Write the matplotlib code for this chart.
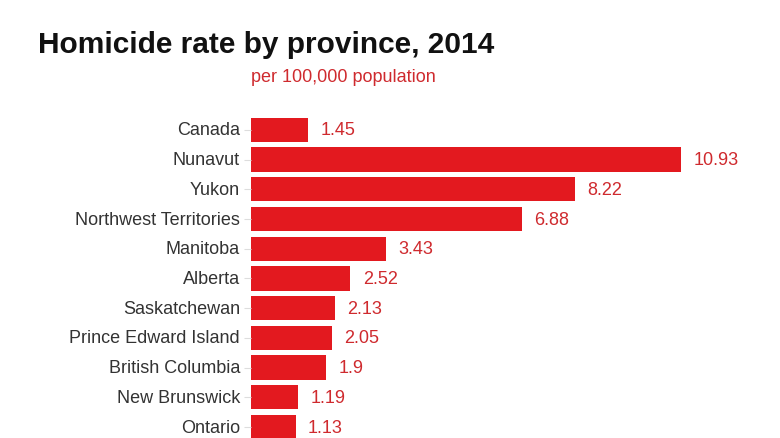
import matplotlib
matplotlib.use("Agg")
import matplotlib.pyplot as plt

# homicide rate per 100,000 population, 2014 (visible rows)
provinces = ["Canada", "Nunavut", "Yukon", "Northwest Territories", "Manitoba",
             "Alberta", "Saskatchewan", "Prince Edward Island", "British Columbia",
             "New Brunswick", "Ontario"]
rates = [1.45, 10.93, 8.22, 6.88, 3.43, 2.52, 2.13, 2.05, 1.9, 1.19, 1.13]
value_labels = ["1.45", "10.93", "8.22", "6.88", "3.43", "2.52", "2.13", "2.05",
                "1.9", "1.19", "1.13"]

plt.rcParams['font.family'] = ['Liberation Sans', 'DejaVu Sans']

W, H = 780, 439
fig = plt.figure(figsize=(W / 100, H / 100), dpi=100)
ax = fig.add_axes([251 / W, 0, (763 - 251) / W, 1 - 116 / H])

bar_red = "#e3191f"
ypos = list(range(len(provinces)))
ax.barh(ypos, rates, height=0.82, color=bar_red)
for y, v, lab in zip(ypos, rates, value_labels):
    ax.text(v + 0.32, y, lab, va="center", ha="left", fontsize=13, color="#cf2a2e")

ax.set_xlim(0, 13)
ax.set_ylim(10.37, -0.5)
ax.set_yticks(ypos)
ax.set_yticklabels(provinces, fontsize=13, color="#333333", va="center")
ax.tick_params(axis="y", length=5, width=0.8, color="#dddddd", pad=3)
ax.set_xticks([])
for s in ax.spines.values():
    s.set_visible(False)

fig.text(38 / W, 1 - 45 / H, "Homicide rate by province, 2014", fontsize=21.5,
         fontweight="bold", va="center", ha="left", color="#111111")
fig.text(251 / W, 1 - 78 / H, "per 100,000 population", fontsize=13,
         va="center", ha="left", color="#cf2a2e")

fig.savefig("out.png", dpi=100)
